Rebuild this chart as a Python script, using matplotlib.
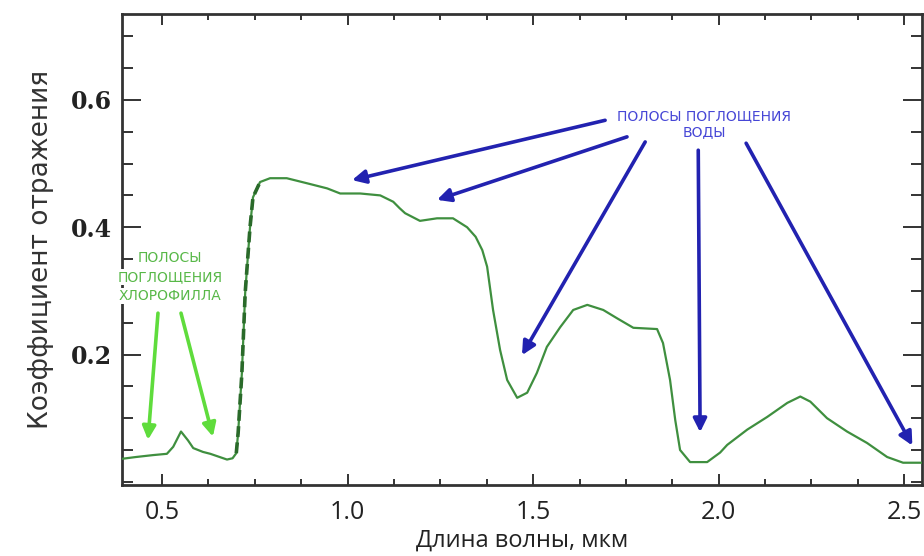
import matplotlib
matplotlib.use('Agg')
import matplotlib.pyplot as plt
import numpy as np
from matplotlib.ticker import MultipleLocator

# reflectance spectrum of green vegetation
wavelength = [0.39, 0.43, 0.476, 0.513, 0.53, 0.551, 0.57, 0.584, 0.61, 0.63,
              0.66, 0.675, 0.69, 0.70, 0.705, 0.715, 0.724, 0.737, 0.745, 0.764,
              0.791, 0.836, 0.891, 0.945, 0.98, 1.034, 1.088, 1.123, 1.14, 1.155,
              1.195, 1.241, 1.284, 1.322, 1.345, 1.363, 1.376, 1.392, 1.411, 1.43,
              1.457, 1.484, 1.51, 1.537, 1.573, 1.608, 1.646, 1.689, 1.726, 1.77,
              1.834, 1.85, 1.869, 1.883, 1.896, 1.923, 1.969, 2.004, 2.023, 2.077,
              2.131, 2.185, 2.22, 2.247, 2.292, 2.346, 2.4, 2.454, 2.497, 2.55]
reflectance = [0.036, 0.039, 0.042, 0.044, 0.055, 0.079, 0.065, 0.053, 0.047, 0.044,
               0.038, 0.035, 0.037, 0.045, 0.077, 0.17, 0.297, 0.40, 0.447, 0.471,
               0.477, 0.477, 0.469, 0.461, 0.453, 0.453, 0.450, 0.44, 0.43, 0.422,
               0.41, 0.414, 0.414, 0.40, 0.385, 0.364, 0.338, 0.27, 0.207, 0.16,
               0.132, 0.14, 0.171, 0.212, 0.243, 0.27, 0.278, 0.27, 0.257, 0.242,
               0.24, 0.218, 0.16, 0.097, 0.05, 0.031, 0.031, 0.046, 0.058, 0.082,
               0.102, 0.124, 0.134, 0.126, 0.10, 0.079, 0.061, 0.039, 0.03, 0.03]

x_ticks = [0.5, 1.0, 1.5, 2.0, 2.5]
x_tick_labels = ['0.5', '1.0', '1.5', '2.0', '2.5']
y_ticks = [0.2, 0.4, 0.6]
y_tick_labels = ['0.2', '0.4', '0.6']

chloro_lines = ['ПОЛОСЫ', 'ПОГЛОЩЕНИЯ', 'ХЛОРОФИЛЛА']
water_label = 'ПОЛОСЫ ПОГЛОЩЕНИЯ\nВОДЫ'

# (tail, head) in data coords
chloro_arrows = [((0.489, 0.265), (0.462, 0.066)),
                 ((0.551, 0.265), (0.637, 0.071))]
water_arrows = [((1.694, 0.568), (1.012, 0.474)),
                ((1.753, 0.542), (1.241, 0.443)),
                ((1.802, 0.534), (1.470, 0.199)),
                ((1.945, 0.521), (1.950, 0.078)),
                ((2.074, 0.532), (2.522, 0.057))]

LINE_GREEN = '#3f8f3f'
DASH_GREEN = '#2a6a2a'
ARROW_GREEN = '#5fdc3c'
TEXT_GREEN = '#58b848'
ARROW_BLUE = '#2222b0'
TEXT_BLUE = '#4646d6'
AXIS_COL = '#333333'

fig = plt.figure(figsize=(9.24, 5.56), dpi=100)
ax = fig.add_axes([122/924, 71/556, 800/924, 471/556])

wl = np.array(wavelength)
rf = np.array(reflectance)
ax.plot(wl, rf, color=LINE_GREEN, lw=1.6, zorder=4)
steep = (wl >= 0.70) & (wl <= 0.765)
ax.plot(wl[steep], rf[steep], color=DASH_GREEN, lw=2.6, ls=(0, (3, 1.5)), zorder=5)

ax.set_xlim(0.392, 2.548)
ax.set_ylim(-0.005, 0.735)

ax.set_xticks(x_ticks)
ax.set_xticklabels(x_tick_labels, family='Open Sans', fontsize=18, color='#222222')
ax.xaxis.set_minor_locator(MultipleLocator(0.125))
ax.set_yticks(y_ticks)
ax.set_yticklabels(y_tick_labels, family='DejaVu Serif', fontweight='bold',
                   fontsize=17, color='#222222')
ax.yaxis.set_minor_locator(MultipleLocator(0.05))

ax.tick_params(axis='both', which='both', direction='in', top=True, right=True,
               color=AXIS_COL, width=1.4)
ax.tick_params(axis='x', which='major', length=8, pad=11)
ax.tick_params(axis='x', which='minor', length=4)
ax.tick_params(axis='y', which='major', length=14, pad=7)
ax.tick_params(axis='y', which='minor', length=8)
for sp in ax.spines.values():
    sp.set_color(AXIS_COL)
    sp.set_linewidth(2)

ax.set_xlabel('Длина волны, мкм', family='Open Sans', fontsize=17,
              color='#222222', va='center')
ax.xaxis.set_label_coords(0.5, -0.118)
ax.set_ylabel('Коэффициент отражения', family='DejaVu Sans', fontsize=19,
              color='#333333', labelpad=12)

for i, line in enumerate(chloro_lines):
    ax.text(0.522, 0.352 - i * 0.03, line, ha='center', va='center',
            family='DejaVu Sans', fontsize=10, color=TEXT_GREEN, zorder=6,
            bbox=dict(facecolor='white', edgecolor='none', pad=0.5))

ax.text(1.961, 0.562, water_label, ha='center', va='center', family='DejaVu Sans',
        fontsize=10, color=TEXT_BLUE, linespacing=1.25, zorder=6)

for tail, head in chloro_arrows:
    ax.annotate('', xy=head, xytext=tail, zorder=7,
                arrowprops=dict(arrowstyle='-|>', color=ARROW_GREEN, lw=2.6,
                                mutation_scale=20, shrinkA=0, shrinkB=0))
for tail, head in water_arrows:
    ax.annotate('', xy=head, xytext=tail, zorder=7,
                arrowprops=dict(arrowstyle='-|>', color=ARROW_BLUE, lw=2.6,
                                mutation_scale=20, shrinkA=0, shrinkB=0))

fig.savefig('out.png', dpi=100, facecolor='white')
